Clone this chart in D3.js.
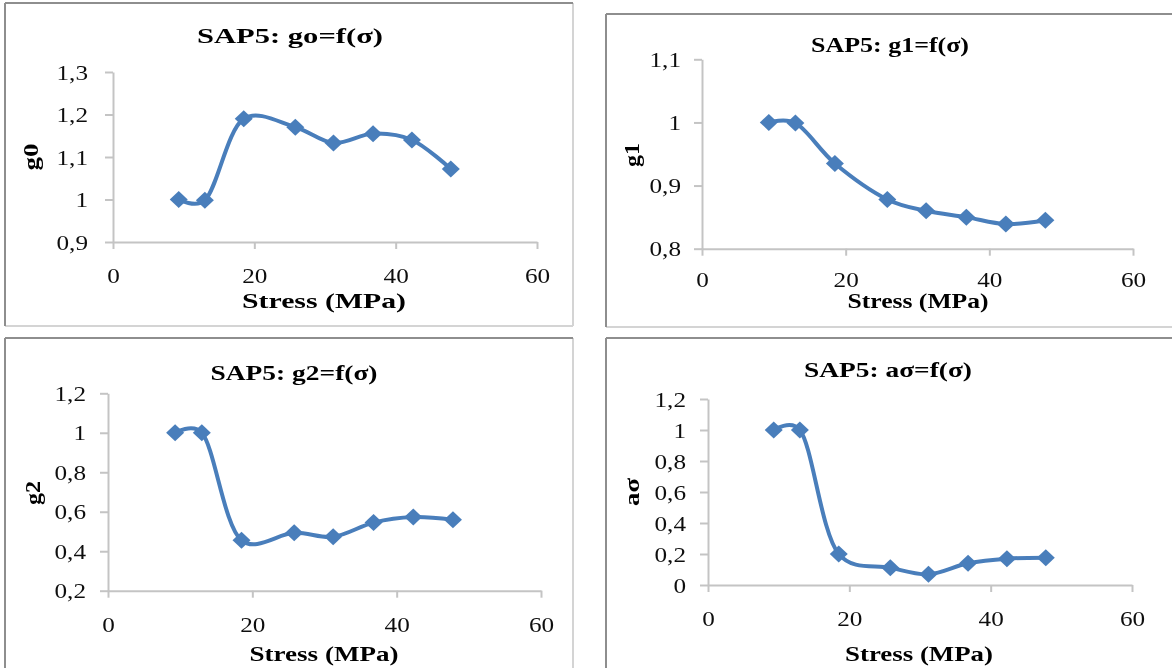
<!DOCTYPE html>
<html>
<head>
<meta charset="utf-8">
<script src="https://cdn.jsdelivr.net/npm/d3@7"></script>
<style>
  body { margin: 0; background: #fff; }
  svg { display: block; }
</style>
</head>
<body>
<div id="chart"></div>
<script>
// values
const stress = [9.3, 13.0, 18.5, 25.8, 31.2, 36.8, 42.3, 47.8];
const g0 = [1.0, 0.998, 1.19, 1.17, 1.133, 1.155, 1.14, 1.072];
const g1 = [1.0, 0.999, 0.935, 0.878, 0.860, 0.850, 0.839, 0.845];
const g2 = [1.0, 1.0, 0.455, 0.493, 0.473, 0.545, 0.573, 0.560];
const aSigma = [1.0, 1.0, 0.2, 0.112, 0.069, 0.14, 0.17, 0.176];

const xTicks = [0, 20, 40, 60];
const yTicksG0 = [0.9, 1.0, 1.1, 1.2, 1.3];
const yTicksG1 = [0.8, 0.9, 1.0, 1.1];
const yTicksG2 = [0.2, 0.4, 0.6, 0.8, 1.0, 1.2];
const yTicksA = [0, 0.2, 0.4, 0.6, 0.8, 1.0, 1.2];

const titles = ["SAP5: go=f(σ)", "SAP5: g1=f(σ)", "SAP5: g2=f(σ)", "SAP5: aσ=f(σ)"];
const yNames = ["g0", "g1", "g2", "aσ"];
const xName = "Stress (MPa)";

const W = 1172, H = 668;
const blue = "#4a7ebb";
const serif = "'Liberation Serif', 'Times New Roman', serif";

const svg = d3.select("#chart").append("svg")
    .attr("width", W)
    .attr("height", H);

// the reference is a soft, scaled-up screenshot
svg.append("defs").append("filter")
    .attr("id", "soft")
  .append("feGaussianBlur")
    .attr("stdDeviation", 0.5);

const root = svg.append("g").attr("filter", "url(#soft)");
root.append("rect").attr("width", W).attr("height", H).attr("fill", "#fff");

// frames round each chart (left/top darker, right/bottom lighter)
const frames = [
  {x0: 5, y0: 3, x1: 573, y1: 326},
  {x0: 606, y0: 14, x1: 1176, y1: 327},
  {x0: 5, y0: 338, x1: 573, y1: 670},
  {x0: 606, y0: 338, x1: 1176, y1: 670}
];
frames.forEach(f => {
  const g = root.append("g");
  g.append("line").attr("x1", f.x0).attr("y1", f.y1).attr("x2", f.x1).attr("y2", f.y1)
    .attr("stroke", "#d4d4d4").attr("stroke-width", 2);
  g.append("line").attr("x1", f.x1).attr("y1", f.y0).attr("x2", f.x1).attr("y2", f.y1)
    .attr("stroke", "#d4d4d4").attr("stroke-width", 2);
  g.append("line").attr("x1", f.x0).attr("y1", f.y0).attr("x2", f.x1).attr("y2", f.y0)
    .attr("stroke", "#8e8e8e").attr("stroke-width", 2);
  g.append("line").attr("x1", f.x0).attr("y1", f.y0).attr("x2", f.x0).attr("y2", f.y1)
    .attr("stroke", "#8e8e8e").attr("stroke-width", 2);
});

const fmt = d => String(+d.toFixed(1)).replace(".", ",");

// stretch text horizontally, the picture is wider than plain Times
function stretch(sel, sx) {
  sel.each(function () {
    const w = this.getComputedTextLength();
    d3.select(this).attr("textLength", w * sx).attr("lengthAdjust", "spacingAndGlyphs");
  });
}

const panels = [
  {vals: g0, yTicks: yTicksG0, yDom: [0.9, 1.3], xr: [113, 537], yr: [242, 72],
   pad: 17, xlab: 41, title: [290, 43, 186], xt: [324, 308, 164], yt: [30, 157, 27]},
  {vals: g1, yTicks: yTicksG1, yDom: [0.8, 1.1], xr: [702, 1133], yr: [248.7, 59.3],
   pad: 13, xlab: 38, title: [890, 52, 158], xt: [918, 308, 141], yt: [631, 155, 24]},
  {vals: g2, yTicks: yTicksG2, yDom: [0.2, 1.2], xr: [108, 541], yr: [590.7, 393.3],
   pad: 14, xlab: 41, title: [294, 380, 167], xt: [324, 661, 149], yt: [32, 493, 24]},
  {vals: aSigma, yTicks: yTicksA, yDom: [0, 1.2], xr: [708, 1132], yr: [585, 399],
   pad: 14, xlab: 41, title: [888, 377, 168], xt: [919, 661, 148], yt: [631, 492, 28]}
];

panels.forEach((p, i) => {
  const x = d3.scaleLinear().domain([0, 60]).range(p.xr);
  const y = d3.scaleLinear().domain(p.yDom).range(p.yr);
  const g = root.append("g");

  // x axis
  const gx = g.append("g")
      .attr("transform", `translate(0,${p.yr[0]})`)
      .call(d3.axisBottom(x).tickValues(xTicks).tickSize(7).tickSizeOuter(0).tickFormat(d3.format("d")));
  gx.selectAll("text").attr("y", p.xlab).attr("dy", 0);

  // y axis
  const gy = g.append("g")
      .attr("transform", `translate(${p.xr[0]},0)`)
      .call(d3.axisLeft(y).tickValues(p.yTicks).tickSize(8).tickSizeOuter(0).tickPadding(p.pad).tickFormat(fmt));
  gy.selectAll("text").attr("dy", "0.34em");

  [gx, gy].forEach(a => {
    a.select(".domain").attr("stroke", "#c4c4c4").attr("stroke-width", 2);
    a.selectAll(".tick line").attr("stroke", "#c4c4c4").attr("stroke-width", 2);
    a.selectAll("text")
      .attr("fill", "#111")
      .style("font-family", serif)
      .style("font-size", "21px");
    stretch(a.selectAll("text"), 1.2);
  });

  // smoothed line like the spreadsheet one
  const pts = stress.map((s, k) => [s, p.vals[k]]);
  g.append("path")
    .datum(pts)
    .attr("fill", "none")
    .attr("stroke", blue)
    .attr("stroke-width", 4)
    .attr("d", d3.line().x(d => x(d[0])).y(d => y(d[1])).curve(d3.curveCatmullRom.alpha(0.25)));

  g.selectAll(".mk")
    .data(pts)
    .join("path")
      .attr("class", "mk")
      .attr("transform", d => `translate(${x(d[0])},${y(d[1])})`)
      .attr("d", "M0,-8.5L9,0L0,8.5L-9,0Z")
      .attr("fill", blue);

  // titles
  g.append("text")
    .attr("x", p.title[0]).attr("y", p.title[1])
    .attr("text-anchor", "middle")
    .attr("textLength", p.title[2]).attr("lengthAdjust", "spacingAndGlyphs")
    .style("font-family", serif).style("font-weight", "bold").style("font-size", "21px")
    .text(titles[i]);

  g.append("text")
    .attr("x", p.xt[0]).attr("y", p.xt[1])
    .attr("text-anchor", "middle")
    .attr("textLength", p.xt[2]).attr("lengthAdjust", "spacingAndGlyphs")
    .style("font-family", serif).style("font-weight", "bold").style("font-size", "22px")
    .text(xName);

  g.append("text")
    .attr("transform", `translate(${p.yt[0]},${p.yt[1]}) rotate(-90)`)
    .attr("text-anchor", "middle")
    .attr("dy", "0.35em")
    .attr("textLength", p.yt[2]).attr("lengthAdjust", "spacingAndGlyphs")
    .style("font-family", serif).style("font-weight", "bold").style("font-size", "22px")
    .text(yNames[i]);
});
</script>
</body>
</html>
